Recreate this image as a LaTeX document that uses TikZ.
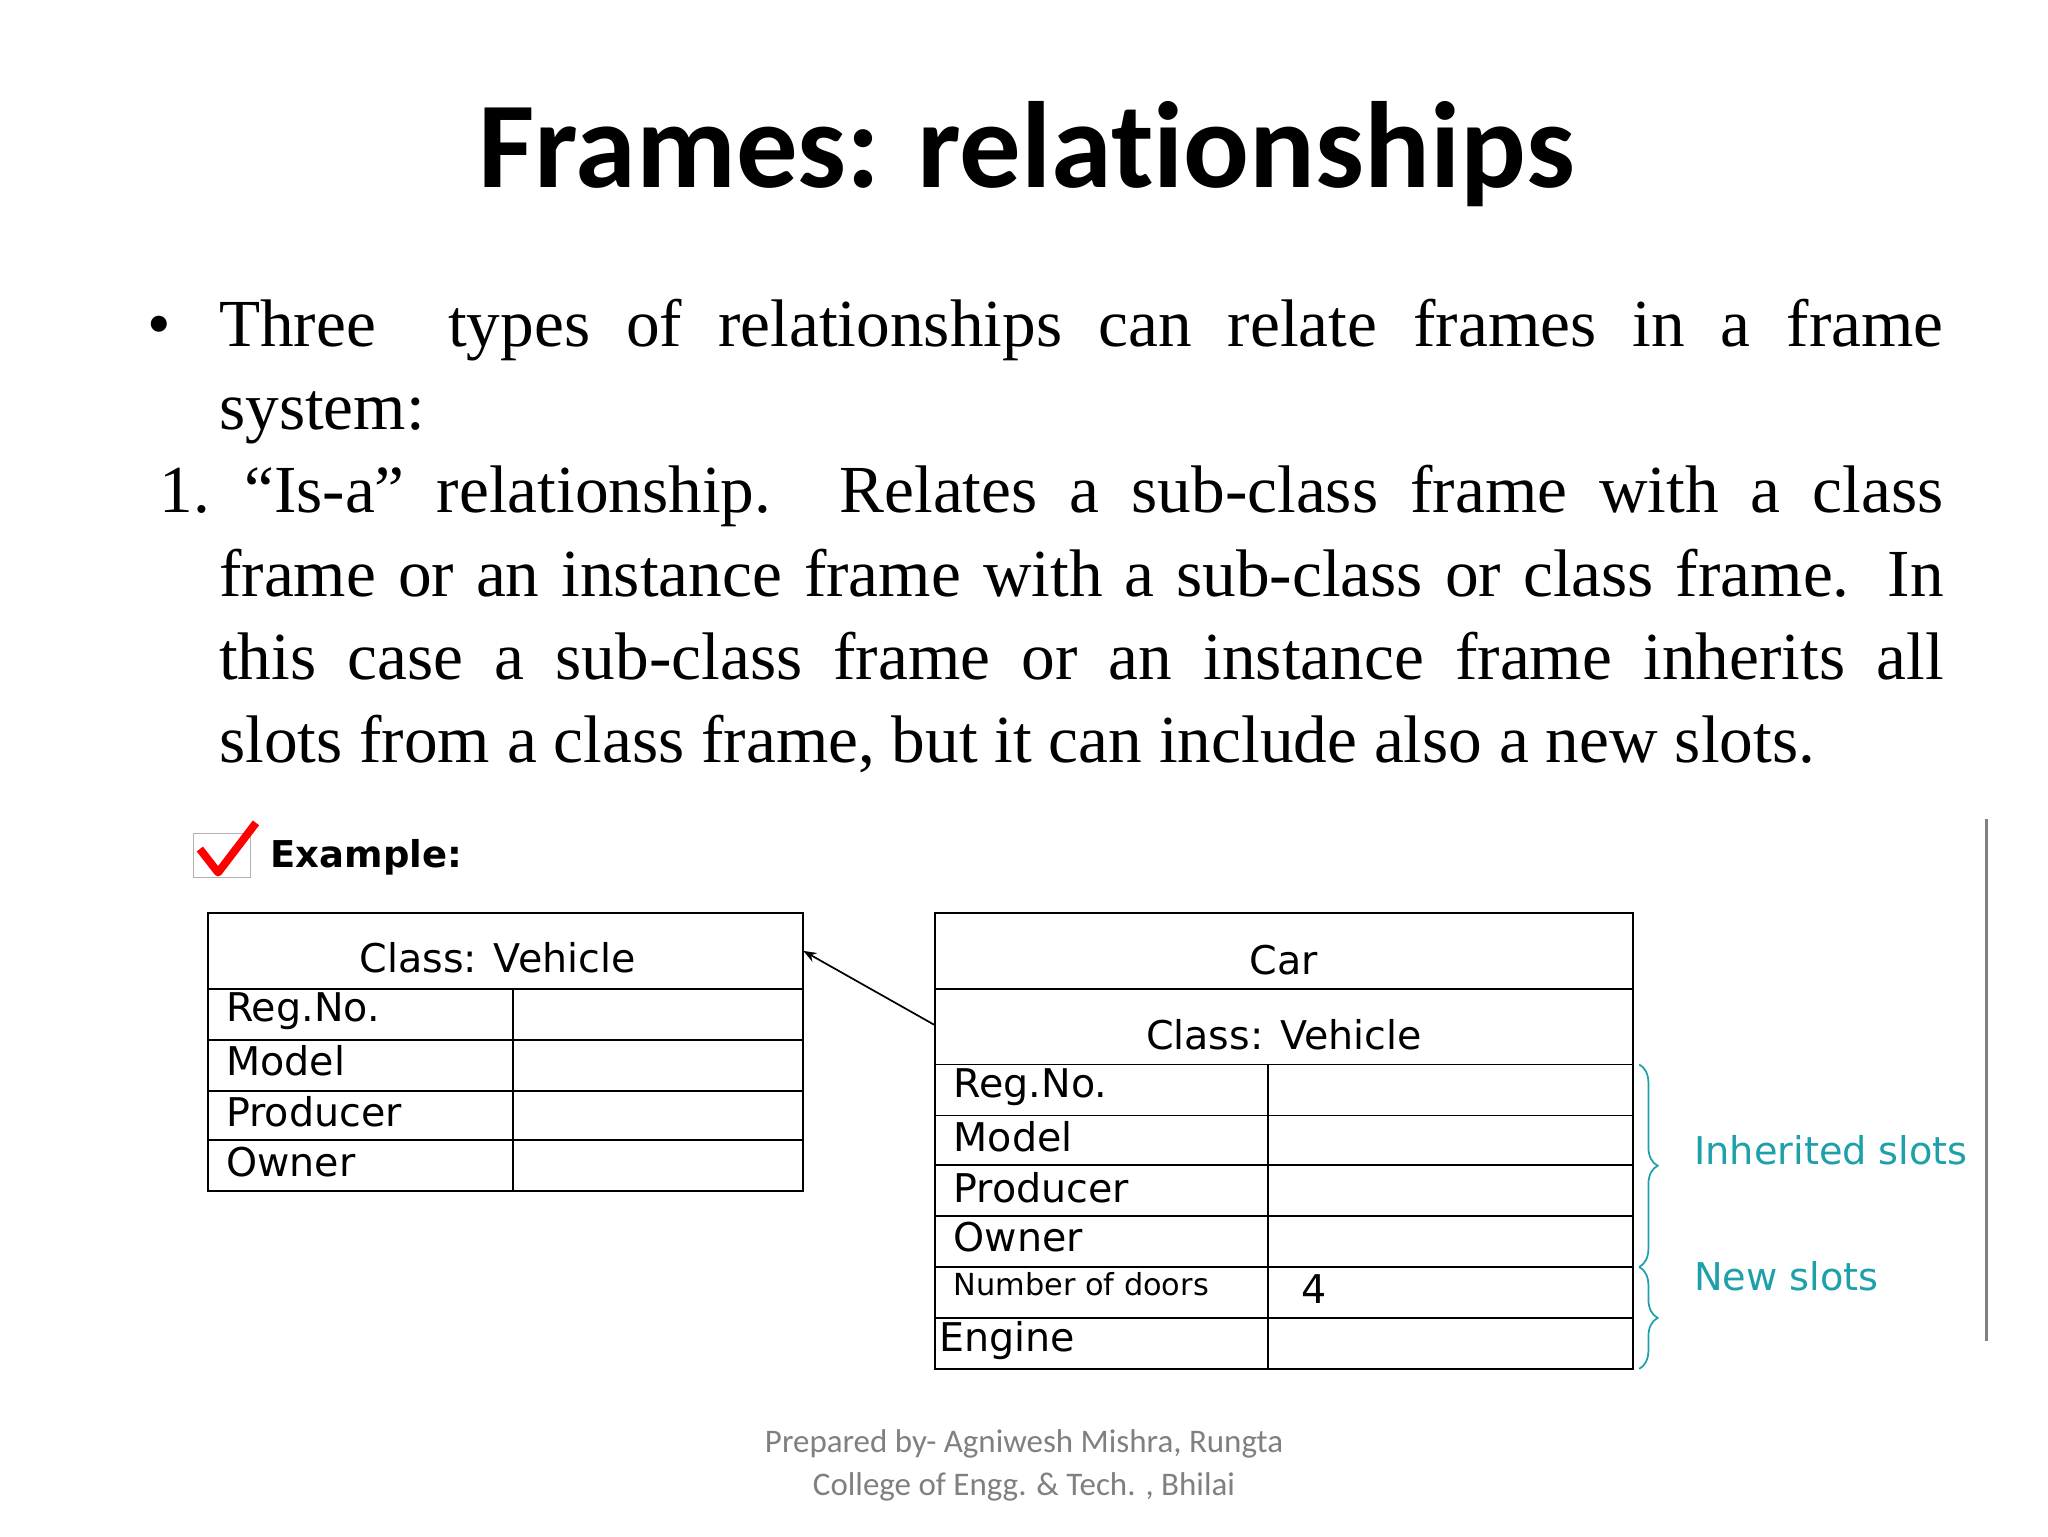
\documentclass[tikz,border=0pt]{standalone}
\usepackage{fontspec}
\setmainfont{Liberation Serif}
\newfontfamily\titlefont[Ligatures=NoCommon]{Carlito}
\newfontfamily\tabfont{DejaVu Sans}
\usetikzlibrary{decorations.pathreplacing,arrows.meta}
\definecolor{teal1}{RGB}{30,160,170}
\tikzset{
 cell/.style={draw,line width=1.4pt},
 ttxt/.style={font=\tabfont\fontsize{30}{30}\selectfont,anchor=west,inner sep=0pt},
 brc/.style={draw=teal1,line width=1.3pt,decorate,decoration={brace,amplitude=14pt}},
 blab/.style={font=\tabfont\fontsize{29}{29}\selectfont,text=teal1,anchor=west,inner sep=0pt}
}
\begin{document}
\begin{tikzpicture}[x=0.99pt,y=-0.99pt]
\useasboundingbox (0,0) rectangle (1568,1176);
\fill[white] (0,0) rectangle (1568,1176);
\node[font=\titlefont\bfseries\fontsize{93}{93}\selectfont] (title) at (786,118) {Frames: relationships};
\node[font=\fontsize{51}{63}\selectfont,anchor=north west,inner sep=0pt] (body) at (105,229) {\parbox[t]{1369pt}{\setlength{\parindent}{0pt}%
\hangindent=62pt\hangafter=1 \makebox[62pt][l]{\hspace{8pt}•}Three\ \ types of relationships can relate frames in a frame\linebreak system:\par
\hangindent=62pt\hangafter=1 \makebox[81pt][l]{\hspace{17pt}1.}“Is-a” relationship. Relates a sub-class frame with a class\linebreak frame or an instance frame with a sub-class or class frame. In\linebreak this case a sub-class frame or an instance frame inherits all\linebreak slots from a class frame, but it can include also a new slots.\par}};
% example
\draw[gray!60,line width=1pt] (148,638) rectangle (192,672);
\draw[red,line width=6pt,line join=round] (153,650) -- (167,668) -- (196,630);
\node[font=\tabfont\bfseries\fontsize{28}{28}\selectfont,anchor=west,inner sep=0pt] (ex) at (207,656) {Example:};
% left table
\draw[cell] (159,699) rectangle (615,912);
\foreach \y in {757,796,835,873} \draw[cell] (159,\y) -- (615,\y);
\draw[cell] (393,757) -- (393,912);
\node[font=\tabfont\fontsize{30}{30}\selectfont,inner sep=0pt] (lh) at (381,733) {Class: Vehicle};
\coordinate (lcorner) at (615,728);
\node[ttxt] (l1) at (173,774) {Reg.No.};
\node[ttxt] (l2) at (173,812) {Model};
\node[ttxt] (l3) at (173,851) {Producer};
\node[ttxt] (l4) at (173,890) {Owner};
% right table
\draw[cell] (716,699) rectangle (1250,1048);
\foreach \y in {757,815,854,892,931,970,1009} \draw[cell] (716,\y) -- (1250,\y);
\draw[cell] (971,815) -- (971,1048);
\node[font=\tabfont\fontsize{30}{30}\selectfont,inner sep=0pt] (rh) at (983,735) {Car};
\node[font=\tabfont\fontsize{30}{30}\selectfont,inner sep=0pt] (rh2) at (983,792) {Class: Vehicle};
\coordinate (rcorner) at (716,785);
\node[ttxt] (r1) at (730,832) {Reg.No.};
\node[ttxt] (r2) at (730,870) {Model};
\node[ttxt] (r3) at (730,909) {Producer};
\node[ttxt] (r4) at (730,947) {Owner};
\node[ttxt,font=\tabfont\fontsize{23}{23}\selectfont] (r5) at (730,983) {Number of doors};
\node[ttxt] (r5v) at (996,987) {4};
\node[ttxt] (r6) at (719,1026) {Engine};
\draw[-{Stealth[length=10pt]},line width=1.3pt] (rcorner) -- (lcorner);
% braces
\coordinate (b1t) at (1255,815); \coordinate (b1b) at (1255,970);
\coordinate (b2t) at (1255,970); \coordinate (b2b) at (1255,1048);
\draw[brc] (b1t) -- (b1b);
\draw[brc] (b2t) -- (b2b);
\node[blab] (inh) at (1297,881) {Inherited slots};
\node[blab] (new) at (1297,977) {New slots};
\draw[gray,line width=2.5pt] (1521,627) -- (1521,1027);
% footer
\node[font=\titlefont\fontsize{25}{32}\selectfont,text=gray,align=center] (foot) at (784,1122) {Prepared by- Agniwesh Mishra, Rungta\\College of Engg. \& Tech. , Bhilai};
\end{tikzpicture}
\end{document}
